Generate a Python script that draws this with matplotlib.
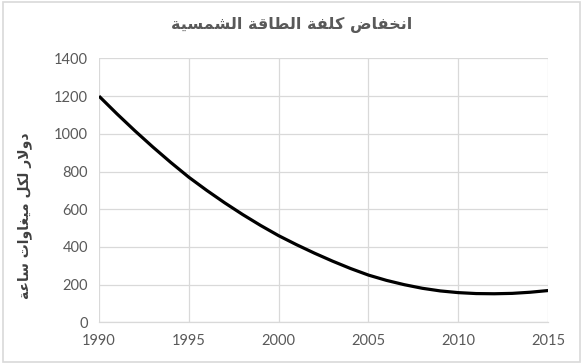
import matplotlib
matplotlib.use("Agg")
import matplotlib.pyplot as plt
from matplotlib.patches import Rectangle

# data
years = list(range(1990, 2016))
cost = [1200, 1106, 1016, 930, 848, 770, 700, 634, 572, 514,
        460, 412, 367, 325, 286, 251, 223, 200, 181, 167,
        158, 153, 152, 154, 160, 169]

x_ticks = [1990, 1995, 2000, 2005, 2010, 2015]
y_ticks = [0, 200, 400, 600, 800, 1000, 1200, 1400]

title_text = "انخفاض كلفة الطاقة الشمسية"
ylabel_text = "دولار لكل ميغاوات ساعة"


# minimal arabic shaping: (isolated, final, initial, medial)
FORMS = {
    "ا": (0xFE8D, 0xFE8E, None, None),
    "ت": (0xFE95, 0xFE96, 0xFE97, 0xFE98),
    "ة": (0xFE93, 0xFE94, None, None),
    "خ": (0xFEA5, 0xFEA6, 0xFEA7, 0xFEA8),
    "د": (0xFEA9, 0xFEAA, None, None),
    "ر": (0xFEAD, 0xFEAE, None, None),
    "س": (0xFEB1, 0xFEB2, 0xFEB3, 0xFEB4),
    "ش": (0xFEB5, 0xFEB6, 0xFEB7, 0xFEB8),
    "ض": (0xFEBD, 0xFEBE, 0xFEBF, 0xFEC0),
    "ط": (0xFEC1, 0xFEC2, 0xFEC3, 0xFEC4),
    "ع": (0xFEC9, 0xFECA, 0xFECB, 0xFECC),
    "غ": (0xFECD, 0xFECE, 0xFECF, 0xFED0),
    "ف": (0xFED1, 0xFED2, 0xFED3, 0xFED4),
    "ق": (0xFED5, 0xFED6, 0xFED7, 0xFED8),
    "ك": (0xFED9, 0xFEDA, 0xFEDB, 0xFEDC),
    "ل": (0xFEDD, 0xFEDE, 0xFEDF, 0xFEE0),
    "م": (0xFEE1, 0xFEE2, 0xFEE3, 0xFEE4),
    "ن": (0xFEE5, 0xFEE6, 0xFEE7, 0xFEE8),
    "و": (0xFEED, 0xFEEE, None, None),
    "ي": (0xFEF1, 0xFEF2, 0xFEF3, 0xFEF4),
    "لا": (0xFEFB, 0xFEFC, None, None),
}


def shape(text):
    # merge lam + alef into one unit
    units = []
    i = 0
    while i < len(text):
        if text[i:i + 2] == "لا":
            units.append("لا")
            i += 2
        else:
            units.append(text[i])
            i += 1

    out = []
    for i, u in enumerate(units):
        if u not in FORMS:
            out.append(u)
            continue
        prev = units[i - 1] if i > 0 else None
        nxt = units[i + 1] if i + 1 < len(units) else None
        join_prev = prev in FORMS and FORMS[prev][2] is not None
        join_next = FORMS[u][2] is not None and nxt in FORMS
        iso, fin, ini, med = FORMS[u]
        if join_prev and join_next:
            code = med
        elif join_prev:
            code = fin
        elif join_next:
            code = ini
        else:
            code = iso
        out.append(chr(code))
    # visual order for left-to-right drawing
    return "".join(out)[::-1]


fig = plt.figure(figsize=(5.83, 3.63), dpi=100)
ax = fig.add_axes([0.1698, 0.1118, 0.7703, 0.7273])

ax.plot(years, cost, color="black", linewidth=2.3, solid_capstyle="butt")

ax.set_xlim(1990, 2015)
ax.set_ylim(0, 1400)
ax.set_xticks(x_ticks)
ax.set_yticks(y_ticks)
ax.grid(True, color="#d9d9d9", linewidth=0.9)
ax.set_axisbelow(True)

for s in ["top", "right", "left"]:
    ax.spines[s].set_visible(False)
ax.spines["bottom"].set_color("#d9d9d9")
ax.spines["bottom"].set_linewidth(0.9)

ax.tick_params(length=0, labelsize=10.5, labelcolor="#595959", pad=8)
for lbl in ax.get_xticklabels() + ax.get_yticklabels():
    lbl.set_fontfamily("Lato")

fig.text(0.5, 0.93, shape(title_text), ha="center", va="center",
         fontsize=11.5, fontweight="bold", color="#595959", family="DejaVu Sans")
fig.text(0.043, 0.405, shape(ylabel_text), ha="center", va="center",
         rotation=90, fontsize=10, fontweight="bold", color="#404040",
         family="DejaVu Sans")

# outer chart border
fig.patches.append(Rectangle((2.5 / 583, 1.5 / 363), 577.5 / 583, 360 / 363,
                             transform=fig.transFigure, fill=False,
                             edgecolor="#d9d9d9", linewidth=1.2))

fig.savefig("out.png", dpi=100)
